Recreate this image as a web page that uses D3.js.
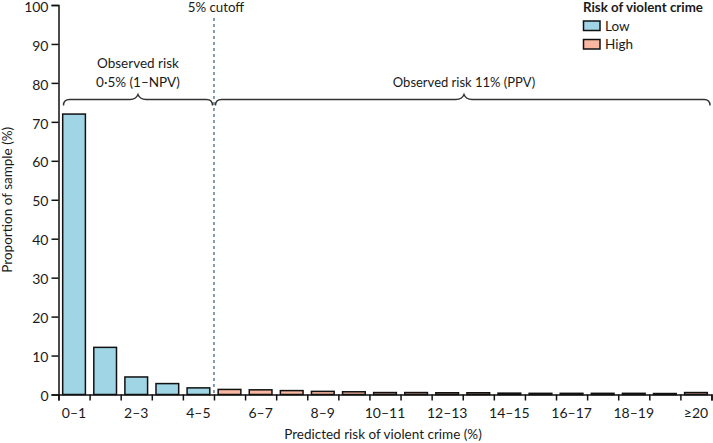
<!DOCTYPE html>
<html><head><meta charset="utf-8">
<script src="https://cdn.jsdelivr.net/npm/d3@7"></script>
<style>
body{margin:0;background:#fff;}
text{font-family:Lato,"Noto Sans",sans-serif;fill:#1a1a1a;}
</style></head>
<body><svg id="c" width="713" height="443"></svg>
<script>
const categories = ["0–1","1–2","2–3","3–4","4–5","5–6","6–7","7–8","8–9","9–10","10–11","11–12","12–13","13–14","14–15","15–16","16–17","17–18","18–19","19–20","≥20"];
const values = [72, 12.1, 4.5, 2.8, 1.7, 1.3, 1.2, 1.0, 0.8, 0.7, 0.5, 0.5, 0.45, 0.45, 0.35, 0.3, 0.3, 0.3, 0.3, 0.25, 0.5];
const riskGroup = ["Low","Low","Low","Low","Low","High","High","High","High","High","High","High","High","High","High","High","High","High","High","High","High"];
const tickLabels = ["0–1","2–3","4–5","6–7","8–9","10–11","12–13","14–15","16–17","18–19","≥20"];
const yTicks = [0,10,20,30,40,50,60,70,80,90,100];
const legendItems = ["Low","High"];
const cutoffIndex = 5;

const FONT = 'Lato, "Noto Sans", sans-serif';
const FS = 13.5;
const colors = {Low:"#a0d5e5", High:"#f8b7a0"};
const svg = d3.select("#c");
const L = 58.5, R = 711.5, T = 5, B = 394.5;

const x = d3.scaleBand().domain(categories).range([L, R]).paddingInner(0.27).paddingOuter(0.135);
const xb = d3.scaleLinear().domain([0, categories.length]).range([L, R]);
const y = d3.scaleLinear().domain([0, 100]).range([B, T]);

// bars
svg.append("g").selectAll("rect").data(categories).join("rect")
  .attr("x", d => x(d)).attr("width", x.bandwidth())
  .attr("y", (d,i) => y(values[i])).attr("height", (d,i) => y(0) - y(values[i]))
  .attr("fill", (d,i) => colors[riskGroup[i]])
  .attr("stroke", "#111").attr("stroke-width", 1.5);

// y axis
const ya = svg.append("g").attr("transform", `translate(${L},0)`)
  .call(d3.axisLeft(y).tickValues(yTicks).tickSize(7).tickPadding(3));
ya.select(".domain").attr("stroke","#111").attr("stroke-width",1.5);
ya.selectAll(".tick line").attr("stroke","#111").attr("stroke-width",1.5);
ya.selectAll(".tick text").attr("font-size",14).attr("font-family",FONT).attr("fill","#1a1a1a").attr("dy","0.44em");

// x axis ticks at boundaries
const xa = svg.append("g").attr("transform", `translate(0,${B})`)
  .call(d3.axisBottom(xb).tickValues(d3.range(categories.length+1)).tickSize(6).tickFormat(""));
xa.select(".domain").attr("stroke","#111").attr("stroke-width",1.5);
xa.selectAll(".tick line").attr("stroke","#111").attr("stroke-width",1.5);
// x labels
const xl = svg.append("g").attr("transform", `translate(0,${B})`)
  .call(d3.axisBottom(x).tickValues(tickLabels).tickSize(0).tickPadding(14));
xl.select(".domain").remove();
xl.selectAll(".tick text").attr("font-size",14).attr("font-family",FONT).attr("fill","#1a1a1a");

// axis titles
svg.append("text").attr("x", 383).attr("y", 439).attr("text-anchor","middle").attr("font-size",FS).text("Predicted risk of violent crime (%)");
svg.append("text").attr("transform", `translate(12,${(T+B)/2}) rotate(-90)`).attr("text-anchor","middle").attr("font-size",FS).text("Proportion of sample (%)");

// cutoff line
const cx = xb(cutoffIndex);
svg.append("line").attr("x1",cx).attr("x2",cx).attr("y1",18).attr("y2",B)
  .attr("stroke","#3f6b86").attr("stroke-width",1.3).attr("stroke-dasharray","3,3");
svg.append("text").attr("x",cx+2).attr("y",12).attr("text-anchor","middle").attr("font-size",13.3).text("5% cutoff");

// braces
function brace(x1, x2, xm, y0){
  return `M${x1},${y0+6} Q${x1},${y0} ${x1+6},${y0} L${xm-8},${y0} Q${xm-2},${y0} ${xm},${y0-5} Q${xm+2},${y0} ${xm+8},${y0} L${x2-6},${y0} Q${x2},${y0} ${x2},${y0+6}`;
}
const braceY = 99.5;
const lx1 = xb(0)+5, lx2 = cx-1.5, lxm = (lx1+lx2)/2;
const rx1 = cx+1.5, rx2 = xb(categories.length)-1.5, rxm = 464;
svg.append("path").attr("d", brace(lx1, lx2, lxm, braceY)).attr("fill","none").attr("stroke","#333").attr("stroke-width",1.4);
svg.append("path").attr("d", brace(rx1, rx2, rxm, braceY)).attr("fill","none").attr("stroke","#333").attr("stroke-width",1.4);
svg.append("text").attr("x",lxm).attr("y",67.5).attr("text-anchor","middle").attr("font-size",FS).text("Observed risk");
svg.append("text").attr("x",lxm).attr("y",86.5).attr("text-anchor","middle").attr("font-size",FS).text("0·5% (1–NPV)");
svg.append("text").attr("x",rxm).attr("y",86.5).attr("text-anchor","middle").attr("font-size",13).text("Observed risk 11% (PPV)");

// legend
const lg = svg.append("g").attr("transform","translate(583,0)");
lg.append("text").attr("x",0).attr("y",12).attr("font-size",13.3).attr("font-weight","bold").text("Risk of violent crime");
legendItems.forEach((k,i) => {
  lg.append("rect").attr("x",0.5).attr("y",21+i*18.5).attr("width",16.5).attr("height",9.5)
    .attr("fill",colors[k]).attr("stroke","#111").attr("stroke-width",1.5);
  lg.append("text").attr("x",22).attr("y",30.5+i*18.5).attr("font-size",FS).text(k);
});
</script></body></html>
